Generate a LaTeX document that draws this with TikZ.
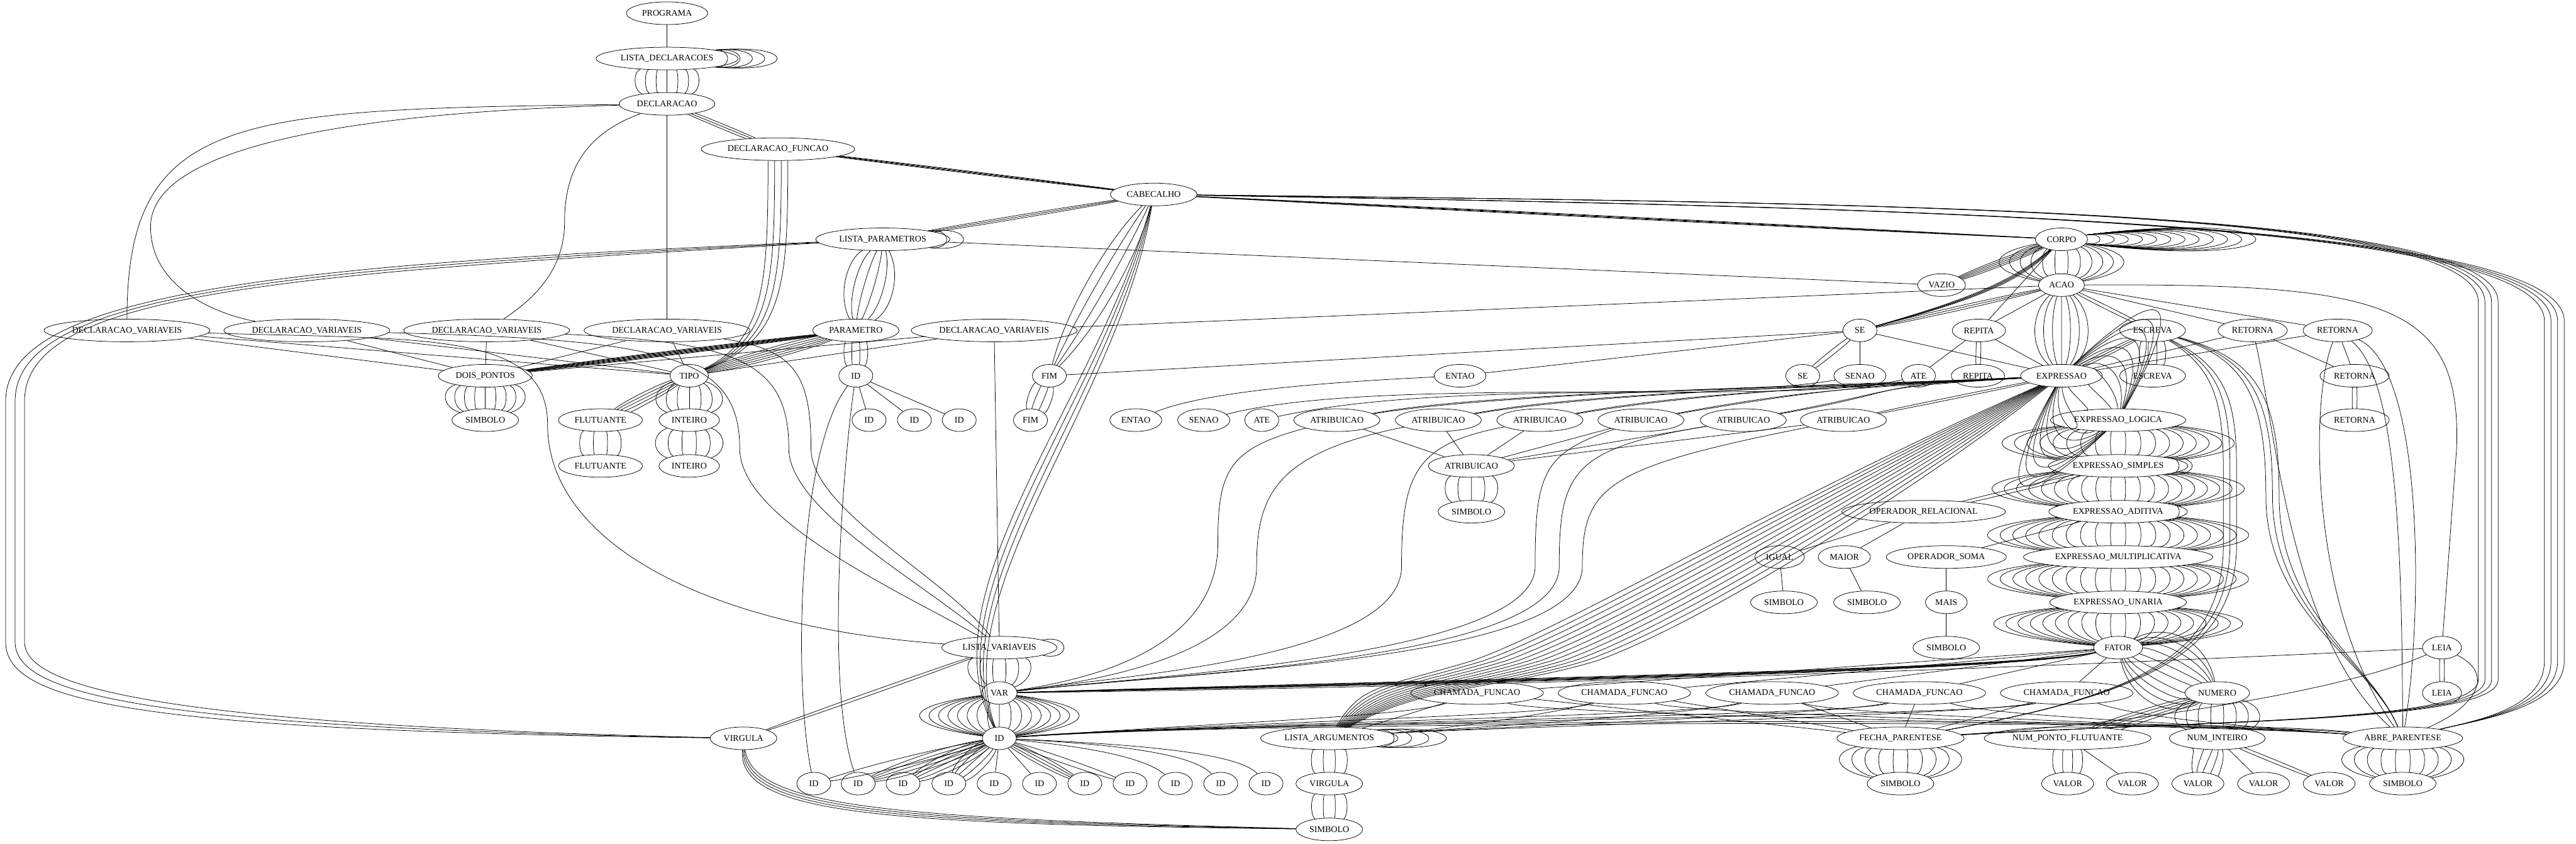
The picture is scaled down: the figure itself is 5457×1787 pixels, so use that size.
\documentclass[tikz,border=0pt]{standalone}
\usepackage{fontspec}
\setmainfont{Liberation Serif}
\usetikzlibrary{shapes.geometric,calc}
\tikzset{
  gnode/.style={draw,ellipse,inner xsep=6pt,inner ysep=3pt,minimum width=54pt,minimum height=36pt,font=\fontsize{14pt}{16pt}\selectfont},
}
\newcommand{\edgebundle}[4]{%
  \foreach \k in {1,...,#3}{%
    \pgfmathsetmacro{\bOff}{#4*(2*(\k-1)-(#3-1))/max(#3-1,1)}%
    \draw (#1) .. controls ($(#1)!0.3!(#2)!\bOff pt!90:(#2)$) and ($(#1)!0.7!(#2)!\bOff pt!90:(#2)$) .. (#2);}}
\newcommand{\selfloops}[4]{%
  \foreach \k in {1,...,#2}{%
    \draw (#1.10) .. controls ($(#1.10)+(\k*#3,-\k*#4)$) and ($(#1.-10)+(\k*#3,\k*#4)$) .. (#1.-10);}}
\begin{document}
\begin{tikzpicture}[x=0.75pt,y=-0.75pt,line width=.75pt,line cap=round,line join=round]
\path[use as bounding box] (0,0) rectangle (5457,1787);
\node[gnode] (prog) at (1413,28) {PROGRAMA};
\node[gnode] (ldecl) at (1413,124) {LISTA\_DECLARACOES};
\node[gnode] (decl) at (1413,220) {DECLARACAO};
\node[gnode] (dfun) at (1648,316) {DECLARACAO\_FUNCAO};
\node[gnode] (cab) at (2444,412) {CABECALHO};
\node[gnode] (lpar) at (1870,507) {LISTA\_PARAMETROS};
\node[gnode] (corpo) at (4367,507) {CORPO};
\node[gnode] (vazio) at (4113,604) {VAZIO};
\node[gnode] (acao) at (4367,604) {ACAO};
\node[gnode] (dva) at (269,700) {DECLARACAO\_VARIAVEIS};
\node[gnode] (dvb) at (650,700) {DECLARACAO\_VARIAVEIS};
\node[gnode] (dvc) at (1031,700) {DECLARACAO\_VARIAVEIS};
\node[gnode] (dvd) at (1413,700) {DECLARACAO\_VARIAVEIS};
\node[gnode] (param) at (1813,700) {PARAMETRO};
\node[gnode] (dve) at (2106,700) {DECLARACAO\_VARIAVEIS};
\node[gnode] (se) at (3940,700) {SE};
\node[gnode] (repita) at (4192,700) {REPITA};
\node[gnode] (escreva) at (4560,700) {ESCREVA};
\node[gnode] (reta) at (4772,700) {RETORNA};
\node[gnode] (retb) at (4952,700) {RETORNA};
\node[gnode] (dois) at (1028,796) {DOIS\_PONTOS};
\node[gnode] (tipo) at (1460,796) {TIPO};
\node[gnode] (idp) at (1813,796) {ID};
\node[gnode] (fim) at (2223,796) {FIM};
\node[gnode] (entao) at (3093,796) {ENTAO};
\node[gnode] (seb) at (3819,796) {SE};
\node[gnode] (senao) at (3940,796) {SENAO};
\node[gnode] (ate) at (4064,796) {ATE};
\node[gnode] (repitab) at (4190,796) {REPITA};
\node[gnode] (expr) at (4367,796) {EXPRESSAO};
\node[gnode] (escrevab) at (4560,796) {ESCREVA};
\node[gnode] (retc) at (4988,796) {RETORNA};
\node[gnode] (simdois) at (1028,890) {SIMBOLO};
\node[gnode] (flut) at (1272,890) {FLUTUANTE};
\node[gnode] (inteiro) at (1460,890) {INTEIRO};
\node[gnode] (idpa) at (1841,890) {ID};
\node[gnode] (idpb) at (1937,890) {ID};
\node[gnode] (idpc) at (2032,890) {ID};
\node[gnode] (fimb) at (2183,890) {FIM};
\node[gnode] (entaob) at (2406,890) {ENTAO};
\node[gnode] (senaob) at (2550,890) {SENAO};
\node[gnode] (ateb) at (2673,890) {ATE};
\node[gnode] (atra) at (2832,890) {ATRIBUICAO};
\node[gnode] (atrb) at (3047,890) {ATRIBUICAO};
\node[gnode] (atrc) at (3262,890) {ATRIBUICAO};
\node[gnode] (atrd) at (3476,890) {ATRIBUICAO};
\node[gnode] (atre) at (3693,890) {ATRIBUICAO};
\node[gnode] (atrf) at (3905,890) {ATRIBUICAO};
\node[gnode] (exlog) at (4487,890) {EXPRESSAO\_LOGICA};
\node[gnode] (retd) at (4988,890) {RETORNA};
\node[gnode] (flutb) at (1272,987) {FLUTUANTE};
\node[gnode] (inteirob) at (1460,987) {INTEIRO};
\node[gnode] (atrsym) at (3117,987) {ATRIBUICAO};
\node[gnode] (exsim) at (4487,987) {EXPRESSAO\_SIMPLES};
\node[gnode] (simatr) at (3117,1084) {SIMBOLO};
\node[gnode] (oprel) at (4075,1084) {OPERADOR\_RELACIONAL};
\node[gnode] (exadi) at (4487,1084) {EXPRESSAO\_ADITIVA};
\node[gnode] (igual) at (3770,1180) {IGUAL};
\node[gnode] (maior) at (3907,1180) {MAIOR};
\node[gnode] (opsoma) at (4123,1180) {OPERADOR\_SOMA};
\node[gnode] (exmul) at (4487,1180) {EXPRESSAO\_MULTIPLICATIVA};
\node[gnode] (simigual) at (3779,1276) {SIMBOLO};
\node[gnode] (simmaior) at (3955,1276) {SIMBOLO};
\node[gnode] (mais) at (4123,1276) {MAIS};
\node[gnode] (exun) at (4487,1276) {EXPRESSAO\_UNARIA};
\node[gnode] (lvar) at (2117,1372) {LISTA\_VARIAVEIS};
\node[gnode] (simmais) at (4123,1372) {SIMBOLO};
\node[gnode] (fator) at (4487,1372) {FATOR};
\node[gnode] (leia) at (5173,1372) {LEIA};
\node[gnode] (var) at (2117,1468) {VAR};
\node[gnode] (cfa) at (3129,1468) {CHAMADA\_FUNCAO};
\node[gnode] (cfb) at (3441,1468) {CHAMADA\_FUNCAO};
\node[gnode] (cfc) at (3754,1468) {CHAMADA\_FUNCAO};
\node[gnode] (cfd) at (4066,1468) {CHAMADA\_FUNCAO};
\node[gnode] (cfe) at (4378,1468) {CHAMADA\_FUNCAO};
\node[gnode] (numero) at (4697,1468) {NUMERO};
\node[gnode] (leiab) at (5173,1468) {LEIA};
\node[gnode] (virg) at (1575,1564) {VIRGULA};
\node[gnode] (id) at (2117,1564) {ID};
\node[gnode] (larg) at (2816,1564) {LISTA\_ARGUMENTOS};
\node[gnode] (fecha) at (4026,1564) {FECHA\_PARENTESE};
\node[gnode] (npf) at (4380,1564) {NUM\_PONTO\_FLUTUANTE};
\node[gnode] (nint) at (4697,1564) {NUM\_INTEIRO};
\node[gnode] (abre) at (5090,1564) {ABRE\_PARENTESE};
\node[gnode] (ida) at (1724,1660) {ID};
\node[gnode] (idb) at (1818,1660) {ID};
\node[gnode] (idc) at (1913,1660) {ID};
\node[gnode] (idd) at (2010,1660) {ID};
\node[gnode] (ide) at (2106,1660) {ID};
\node[gnode] (idf) at (2202,1660) {ID};
\node[gnode] (idg) at (2298,1660) {ID};
\node[gnode] (idh) at (2394,1660) {ID};
\node[gnode] (idi) at (2490,1660) {ID};
\node[gnode] (idj) at (2586,1660) {ID};
\node[gnode] (idk) at (2682,1660) {ID};
\node[gnode] (virgb) at (2816,1660) {VIRGULA};
\node[gnode] (simfecha) at (4026,1660) {SIMBOLO};
\node[gnode] (vala) at (4380,1660) {VALOR};
\node[gnode] (valb) at (4517,1660) {VALOR};
\node[gnode] (valc) at (4656,1660) {VALOR};
\node[gnode] (vald) at (4795,1660) {VALOR};
\node[gnode] (vale) at (4934,1660) {VALOR};
\node[gnode] (simabre) at (5090,1660) {SIMBOLO};
\node[gnode] (simvirg) at (2816,1757) {SIMBOLO};

\draw (prog) -- (ldecl);
\selfloops{ldecl}{5}{35}{3}
\edgebundle{ldecl}{decl}{7}{54}
\draw (decl) .. controls (500,232) and (269,240) .. (dva);
\draw (decl) .. controls (700,240) and (319,320) .. (319,480) .. controls (319,620) and (480,670) .. (dvb);
\draw (decl) .. controls (1250,280) and (1196,350) .. (1196,470) .. controls (1196,580) and (1120,640) .. (dvc);
\draw (decl) -- (dvd);
\edgebundle{decl}{dfun}{3}{4}
\foreach \o in {-21,-7,7,21}{\draw ([xshift=\o*0.75pt]dfun.south) .. controls (1648+\o,600) and (1640+\o,720) .. (tipo);}
\edgebundle{dfun}{cab}{4}{2}
\edgebundle{cab}{lpar}{3}{3}
\edgebundle{cab}{fim}{4}{28}
\foreach \o in {-6,10,26,42}{\draw (cab) .. controls (2330+\o,850) and (1960+\o,1250) .. (id);}
\edgebundle{cab}{corpo}{4}{2}
\foreach \o in {0,14,28,42}{\draw (cab) .. controls (4000,430) and (5250+\o,440) .. (5250+\o,640) -- (5250+\o,1440) .. controls (5250+\o,1530) and (4700,1525) .. (fecha);}
\foreach \o in {0,14,28,42}{\draw (cab) .. controls (4100,440) and (5390+\o,470) .. (5390+\o,680) -- (5390+\o,1400) .. controls (5390+\o,1500) and (5250,1525) .. (abre);}

\selfloops{lpar}{2}{48}{6}
\draw (lpar) -- (vazio);
\edgebundle{lpar}{param}{6}{45}
\foreach \o in {0,20,40}{\draw (lpar) .. controls (600,560+\o/2) and (12+\o,620) .. (12+\o,850) -- (12+\o,1360) .. controls (12+\o,1490-\o) and (300,1548-\o/3) .. (virg);}
\edgebundle{param}{dois}{7}{4}
\edgebundle{param}{tipo}{6}{10}
\edgebundle{param}{idp}{4}{20}
\draw (idp) -- (idpa);
\draw (idp) -- (idpb);
\draw (idp) -- (idpc);
\draw (idp) .. controls (1690,950) and (1680,1450) .. (ida);
\draw (idp) .. controls (1790,950) and (1745,1450) .. (idb);

\foreach \d in {dva,dvb,dvc,dvd,dve}{\draw (\d) -- (dois); \draw (\d) -- (tipo);}
\draw (dva) .. controls (900,720) and (1160,700) .. (1160,900) .. controls (1160,1150) and (1500,1330) .. (lvar);
\draw (dvb) .. controls (1400,720) and (1567,750) .. (1567,950) .. controls (1567,1100) and (1900,1250) .. (lvar);
\draw (dvc) .. controls (1550,725) and (1671,760) .. (1671,950) .. controls (1671,1080) and (1950,1230) .. (lvar);
\draw (dvd) .. controls (1680,740) and (1718,790) .. (1718,950) .. controls (1718,1080) and (2000,1220) .. (lvar);
\draw (dve) -- (lvar);
\edgebundle{dois}{simdois}{9}{70}
\edgebundle{tipo}{flut}{5}{10}
\edgebundle{tipo}{inteiro}{7}{60}
\edgebundle{flut}{flutb}{4}{35}
\edgebundle{inteiro}{inteirob}{6}{60}

\selfloops{lvar}{1}{60}{13}
\edgebundle{lvar}{var}{6}{55}
\edgebundle{lvar}{virg}{2}{3}
\edgebundle{var}{id}{17}{160}
\edgebundle{id}{ida}{2}{8}
\edgebundle{id}{idb}{5}{14}
\edgebundle{id}{idc}{5}{16}
\edgebundle{id}{idd}{5}{20}
\draw (id) -- (ide);
\draw (id) -- (idf);
\edgebundle{id}{idg}{4}{8}
\edgebundle{id}{idh}{2}{5}
\draw (id) .. controls (2280,1580) and (2420,1600) .. (idi);
\draw (id) .. controls (2320,1575) and (2520,1590) .. (idj);
\draw (id) .. controls (2360,1575) and (2620,1590) .. (idk);
\foreach \o in {0,2,4,6,8,10}{\draw (var) .. controls (3000,1440+\o) and (4250,1420+\o/2) .. (fator);}
\draw (var) .. controls (3500,1450) and (4600,1400) .. (leia);
\foreach \o in {0,5}{\draw (id) .. controls (2600,1522+\o) and (4700,1518+\o) .. (abre);}
\foreach \c in {cfa,cfb,cfc,cfd,cfe}{
  \draw (fator) -- (\c);
  \draw (\c) .. controls ($(\c)+(-150,50)$) and (2600,1530) .. (id);
  \draw (\c) -- (fecha);
  \draw (\c) .. controls ($(\c)+(150,50)$) and (4700,1535) .. (abre);
}
\draw (cfa) -- (larg);
\foreach \c in {cfb,cfc,cfd,cfe}{\draw (\c) .. controls ($(\c)+(-150,45)$) and (3050,1545) .. (larg);}
\selfloops{larg}{4}{49}{3.5}
\edgebundle{larg}{virgb}{4}{30}
\edgebundle{virgb}{simvirg}{4}{30}
\foreach \o in {0,12,24,36}{\draw (virg) .. controls (1560+\o,1730-\o/2) and (1900,1745-\o/3) .. (simvirg);}

\selfloops{corpo}{12}{40}{5}
\edgebundle{corpo}{vazio}{5}{6}
\edgebundle{corpo}{acao}{12}{120}
\foreach \o in {0,6,12,18}{\draw (corpo) .. controls (4260+\o,600) and (4150+\o,640) .. (se);}
\draw (corpo) -- (repita);
\edgebundle{acao}{se}{3}{4}
\draw (acao) -- (dve);
\draw (acao) -- (repita);
\edgebundle{acao}{expr}{7}{50}
\edgebundle{acao}{escreva}{2}{3}
\draw (acao) -- (reta);
\draw (acao) -- (retb);
\draw (acao) .. controls (5050,600) and (5215,640) .. (5204,950) -- (leia);
\edgebundle{se}{seb}{2}{4}
\draw (se) -- (senao);
\draw (se) -- (expr);
\draw (se) -- (fim);
\draw (se) -- (entao);
\draw (entao) .. controls (2800,810) and (2550,830) .. (entaob);
\draw (senao) .. controls (3600,855) and (2900,800) .. (senaob);
\draw (ate) .. controls (3800,860) and (3100,795) .. (ateb);
\edgebundle{fim}{fimb}{4}{20}
\edgebundle{repita}{repitab}{2}{4}
\draw (repita) -- (ate);
\draw (repita) -- (expr);
\edgebundle{escreva}{escrevab}{4}{22}
\edgebundle{escreva}{expr}{3}{4}
\foreach \o in {0,14,28}{\draw (escreva) .. controls (4690+\o,780) and (4710+\o,850) .. (4710+\o,1000) -- (4710+\o,1150) .. controls (4710+\o,1380) and (4550,1470) .. (fecha);}
\foreach \o in {0,14,28}{\draw (escreva) .. controls (4760+\o,760) and (4800+\o,850) .. (4800+\o,1050) .. controls (4800+\o,1300) and (5020,1400) .. (abre);}
\draw (reta) -- (expr);
\draw (reta) -- (retc);
\draw (reta) .. controls (4820,900) and (4850,1350) .. (abre);
\draw (retb) -- (expr);
\draw (retb) -- (retc);
\draw (retb) .. controls (4890,850) and (4896,1300) .. (abre);
\draw (retb) .. controls (5082,800) and (5088,1200) .. (abre);
\draw (retb) .. controls (5134,780) and (5134,1300) .. (abre);
\edgebundle{retc}{retd}{2}{4}
\edgebundle{leia}{leiab}{2}{4}
\draw (leia) .. controls (5000,1450) and (4600,1528) .. (fecha);
\draw (leia) .. controls (5290,1430) and (5240,1500) .. (abre);

\edgebundle{expr}{exlog}{18}{225}
\foreach \o in {-132,-108,...,132}{\draw (expr) .. controls (3900+\o,1060) and (3450+\o,1330) .. (3250+\o,1400) .. controls (3050+\o,1460) and (2950+\o/2,1450) .. (larg);}
\foreach \a in {atra,atrb,atrc,atrd,atre}{\foreach \o in {0,6}{\draw (\a) .. controls ($(\a)+(350,-60-\o)$) and (3950,815+\o) .. (expr);}}
\edgebundle{atrf}{expr}{2}{2}
\foreach \a in {atra,atrb,atrc,atrd,atre,atrf}{\draw (\a) -- (atrsym);}
\draw (atra) .. controls (2600,950) and (2580,1000) .. (2580,1150) .. controls (2580,1380) and (2300,1440) .. (var);
\draw (atrb) .. controls (2700,960) and (2662,1050) .. (2662,1200) .. controls (2662,1380) and (2350,1440) .. (var);
\draw (atrc) .. controls (3000,940) and (2969,1000) .. (2969,1200) .. controls (2969,1390) and (2400,1430) .. (var);
\draw (atrd) .. controls (3270,960) and (3252,1000) .. (3252,1200) .. controls (3252,1390) and (2450,1430) .. (var);
\draw (atre) .. controls (3330,950) and (3303,1000) .. (3303,1200) .. controls (3303,1400) and (2500,1425) .. (var);
\draw (atrf) .. controls (3400,990) and (3352,1030) .. (3352,1200) .. controls (3352,1400) and (2550,1420) .. (var);
\edgebundle{atrsym}{simatr}{5}{45}

\edgebundle{exlog}{exsim}{18}{215}
\selfloops{exsim}{2}{37}{4}
\edgebundle{exsim}{exadi}{20}{235}
\edgebundle{exsim}{oprel}{2}{3}
\draw (oprel) -- (igual);
\draw (oprel) -- (maior);
\draw (igual) -- (simigual);
\draw (maior) -- (simmaior);
\selfloops{exadi}{1}{38}{8}
\edgebundle{exadi}{exmul}{20}{240}
\draw (exadi) -- (opsoma);
\draw (opsoma) -- (mais);
\draw (mais) -- (simmais);
\edgebundle{exmul}{exun}{20}{240}
\edgebundle{exun}{fator}{20}{240}
\edgebundle{fator}{numero}{10}{70}
\edgebundle{numero}{nint}{8}{75}
\edgebundle{numero}{npf}{5}{10}
\edgebundle{npf}{vala}{4}{25}
\draw (npf) -- (valb);
\edgebundle{nint}{valc}{5}{25}
\draw (nint) -- (vald);
\edgebundle{nint}{vale}{2}{3}
\edgebundle{fecha}{simfecha}{10}{110}
\edgebundle{abre}{simabre}{10}{110}
\end{tikzpicture}
\end{document}
